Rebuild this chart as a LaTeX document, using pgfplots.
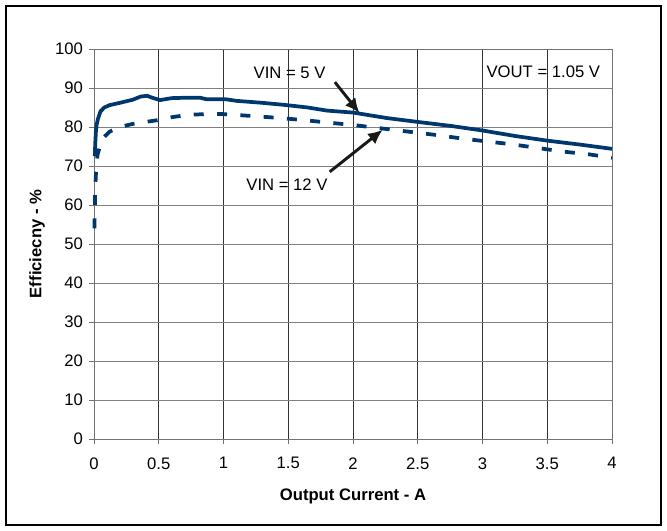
\documentclass[border=0pt]{standalone}
\usepackage{pgfplots}
\pgfplotsset{compat=1.18}
\usepackage{fontspec}
\setmainfont{Liberation Sans}
\usetikzlibrary{arrows.meta}
\definecolor{navy}{RGB}{0,56,110}
\begin{document}
\fontsize{12.5}{15}\selectfont
\begin{tikzpicture}
\useasboundingbox (-70.5pt,-69pt) rectangle (429.75pt,329.25pt);
\draw[black, line width=0.9pt] (-66pt,-64.5pt) rectangle (425.25pt,324.75pt);
\begin{axis}[
  at={(0pt,0pt)}, anchor=south west,
  scale only axis, width=388.5pt, height=292.5pt,
  xmin=0, xmax=4, ymin=0, ymax=100,
  xtick={0,0.5,...,4}, ytick={0,10,...,100},
  xticklabels={0,0.5,1,1.5,2,2.5,3,3.5,4},
  /pgf/number format/assume math mode=true,
  tick align=outside, tick pos=left,
  major tick length=4pt,
  every tick/.style={black!55, line width=0.6pt},
  axis line style={black!55, line width=0.6pt},
  grid=major,
  major x grid style={black!80, line width=0.6pt},
  major y grid style={black!50, line width=0.6pt},
  ticklabel style={font=\fontsize{12.5}{15}\selectfont},
  xticklabel style={yshift=-5.5pt},
  xlabel={\bfseries Output Current - A},
  ylabel={\bfseries Efficiecny - \%},
  label style={font=\fontsize{12.5}{15}\selectfont\bfseries},
  xlabel style={at={(axis description cs:0.5,-0.146)}, anchor=center},
  ylabel style={at={(axis description cs:-0.110,0.5)}, anchor=center, rotate=0},
  clip=false,
]
\addplot[navy, line width=2.8pt, line join=round] coordinates {
(0.006,72.5) (0.01,76) (0.015,79) (0.02,80.5) (0.03,82) (0.05,84) (0.08,85)
(0.12,85.6) (0.2,86.2) (0.3,87) (0.36,87.8) (0.41,88) (0.45,87.5) (0.51,86.9)
(0.6,87.4) (0.7,87.5) (0.82,87.5) (0.87,87.1) (1.02,87.1) (1.1,86.7)
(1.3,86.2) (1.49,85.6) (1.65,85) (1.8,84.2) (2.0,83.7) (2.26,82.3)
(2.5,81.3) (2.75,80.3) (3.0,79.1) (3.25,77.7) (3.5,76.5) (3.75,75.5) (4.0,74.4)
};
\addplot[navy, line width=2.8pt, dash pattern=on 7.5pt off 10pt] coordinates {
(0.003,54) (0.006,58) (0.008,62) (0.012,66) (0.018,70) (0.028,73) (0.05,75.5)
(0.08,77.5) (0.12,78.8) (0.2,80) (0.3,80.8) (0.4,81.3) (0.5,81.8) (0.6,82.5)
(0.72,83.1) (0.92,83.4) (1.0,83.3) (1.23,82.8) (1.44,82.3) (1.64,81.7)
(1.82,81.1) (2.03,80.4) (2.23,79.6) (2.43,78.8) (2.63,78) (2.83,77.1)
(3.03,76.3) (3.22,75.6) (3.43,74.6) (3.62,73.7) (3.82,73) (4.0,72.1)
};
\node at (axis cs:1.51,93.8) {VIN = 5 V};
\node at (axis cs:1.49,65.1) {VIN = 12 V};
\node at (axis cs:3.47,94.1) {VOUT = 1.05 V};
\draw[black!90, line width=2.2pt, -{Latex[length=11pt,width=10pt]}] (axis cs:1.86,91.5) -- (axis cs:2.05,83.6);
\draw[black!90, line width=2.2pt, -{Latex[length=11pt,width=10pt]}] (axis cs:1.82,68.5) -- (axis cs:2.23,79.3);
\end{axis}
\end{tikzpicture}
\end{document}
